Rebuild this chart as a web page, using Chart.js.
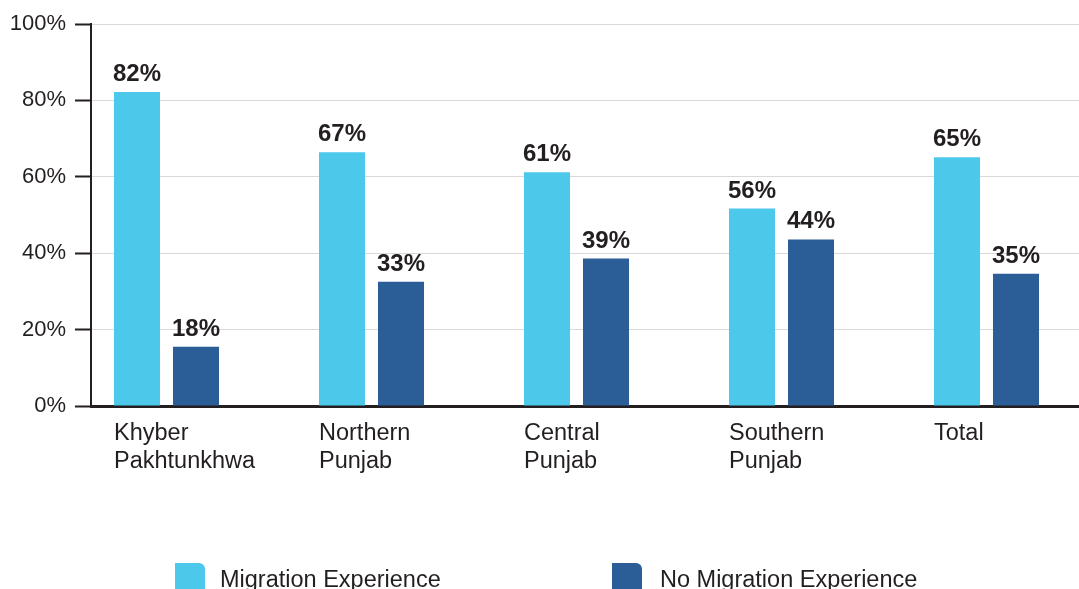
<!DOCTYPE html>
<html>
<head>
<meta charset="utf-8">
<script src="https://cdn.jsdelivr.net/npm/chart.js@4.4.1/dist/chart.umd.min.js"></script>
<style>
  html, body { margin: 0; padding: 0; background: #fff; overflow: hidden; }
  #wrap { position: relative; width: 1079px; height: 589px; overflow: hidden; }
  #legend { position: absolute; left: 0; top: 0; width: 1079px; height: 589px; pointer-events: none;
            font-family: "Liberation Sans", Arial, sans-serif; font-size: 23.5px; color: #231f20; }
  .lg-box { position: absolute; top: 563px; width: 30px; height: 32px; border-radius: 0 6px 0 0; }
  .lg-text { position: absolute; top: 566px; line-height: 27px; white-space: nowrap; }
</style>
</head>
<body>
<div id="wrap">
  <canvas id="chart" width="1079" height="589"></canvas>
  <div id="legend"></div>
</div>
<script>
// categories (one array per label line)
const categories = [
    ['Khyber', 'Pakhtunkhwa'],
    ['Northern', 'Punjab'],
    ['Central', 'Punjab'],
    ['Southern', 'Punjab'],
    ['Total']
];

// bar heights as drawn in the picture
const migration = [82.2, 66.4, 61.2, 51.7, 65.1];
const noMigration = [15.5, 32.5, 38.6, 43.6, 34.6];

// value labels printed above the bars
const migrationLabels = ['82%', '67%', '61%', '56%', '65%'];
const noMigrationLabels = ['18%', '33%', '39%', '44%', '35%'];

const yTicks = [0, 20, 40, 60, 80, 100];

const seriesNames = ['Migration Experience', 'No Migration Experience'];
const seriesColors = ['#4cc8eb', '#2b5d97'];

const FONT = '"Liberation Sans", Arial, sans-serif';
const INK = '#231f20';

const valueLabels = {
    id: 'valueLabels',
    afterDatasetsDraw(chart) {
        const ctx = chart.ctx;
        const texts = [migrationLabels, noMigrationLabels];
        ctx.save();
        ctx.font = 'bold 24px ' + FONT;
        ctx.fillStyle = INK;
        ctx.textAlign = 'center';
        ctx.textBaseline = 'alphabetic';
        chart.data.datasets.forEach((ds, di) => {
            chart.getDatasetMeta(di).data.forEach((bar, i) => {
                ctx.fillText(texts[di][i], bar.x, bar.y - 11);
            });
        });
        ctx.restore();
    }
};

const toPoints = arr => arr.map((v, i) => ({ x: i, y: v }));

const chart = new Chart(document.getElementById('chart'), {
    type: 'bar',
    data: {
        datasets: [
            {
                label: seriesNames[0],
                data: toPoints(migration),
                backgroundColor: seriesColors[0],
                borderWidth: 0
            },
            {
                label: seriesNames[1],
                data: toPoints(noMigration),
                backgroundColor: seriesColors[1],
                borderWidth: 0
            }
        ]
    },
    options: {
        responsive: false,
        devicePixelRatio: 1,
        animation: false,
        categoryPercentage: 0.5756,
        barPercentage: 0.78,
        layout: { padding: { top: 24, left: 0, right: 0, bottom: 0 } },
        plugins: {
            legend: { display: false },
            tooltip: { enabled: false }
        },
        scales: {
            x: {
                type: 'linear',
                min: -0.3683,
                max: 4.4512,
                bounds: 'data',
                offset: false,
                grid: { display: false, drawTicks: false, offset: false },
                border: { display: true, color: INK, width: 3 },
                afterDataLimits: scale => {
                    scale.min = -0.3683;
                    scale.max = 4.4512;
                },
                afterBuildTicks: scale => {
                    scale.ticks = categories.map((c, i) => ({ value: i }));
                },
                afterFit: scale => { scale.height = 183; },
                ticks: {
                    align: 'start',
                    labelOffset: -52.5,
                    padding: 13,
                    maxRotation: 0,
                    autoSkip: false,
                    includeBounds: false,
                    color: INK,
                    font: { family: FONT, size: 23.5, lineHeight: 1.2 },
                    callback: (value, index) => categories[index]
                }
            },
            y: {
                type: 'linear',
                min: 0,
                max: 100,
                afterBuildTicks: scale => {
                    scale.ticks = yTicks.map(v => ({ value: v }));
                },
                afterFit: scale => { scale.width = 91; },
                grid: {
                    color: '#d9d9d9',
                    lineWidth: 1,
                    drawTicks: true,
                    tickLength: 16,
                    tickColor: INK,
                    tickWidth: 2
                },
                border: { display: true, color: INK, width: 2 },
                ticks: {
                    padding: 9,
                    color: INK,
                    font: { family: FONT, size: 22 },
                    callback: v => v + '%'
                }
            }
        }
    },
    plugins: [valueLabels]
});

// legend row along the bottom edge
const legendBoxX = [175, 612];
const legendTextX = [220, 660];
const legend = document.getElementById('legend');
seriesNames.forEach((name, i) => {
    const box = document.createElement('div');
    box.className = 'lg-box';
    box.style.left = legendBoxX[i] + 'px';
    box.style.background = seriesColors[i];
    legend.appendChild(box);
    const txt = document.createElement('div');
    txt.className = 'lg-text';
    txt.style.left = legendTextX[i] + 'px';
    txt.textContent = name;
    legend.appendChild(txt);
});
</script>
</body>
</html>
